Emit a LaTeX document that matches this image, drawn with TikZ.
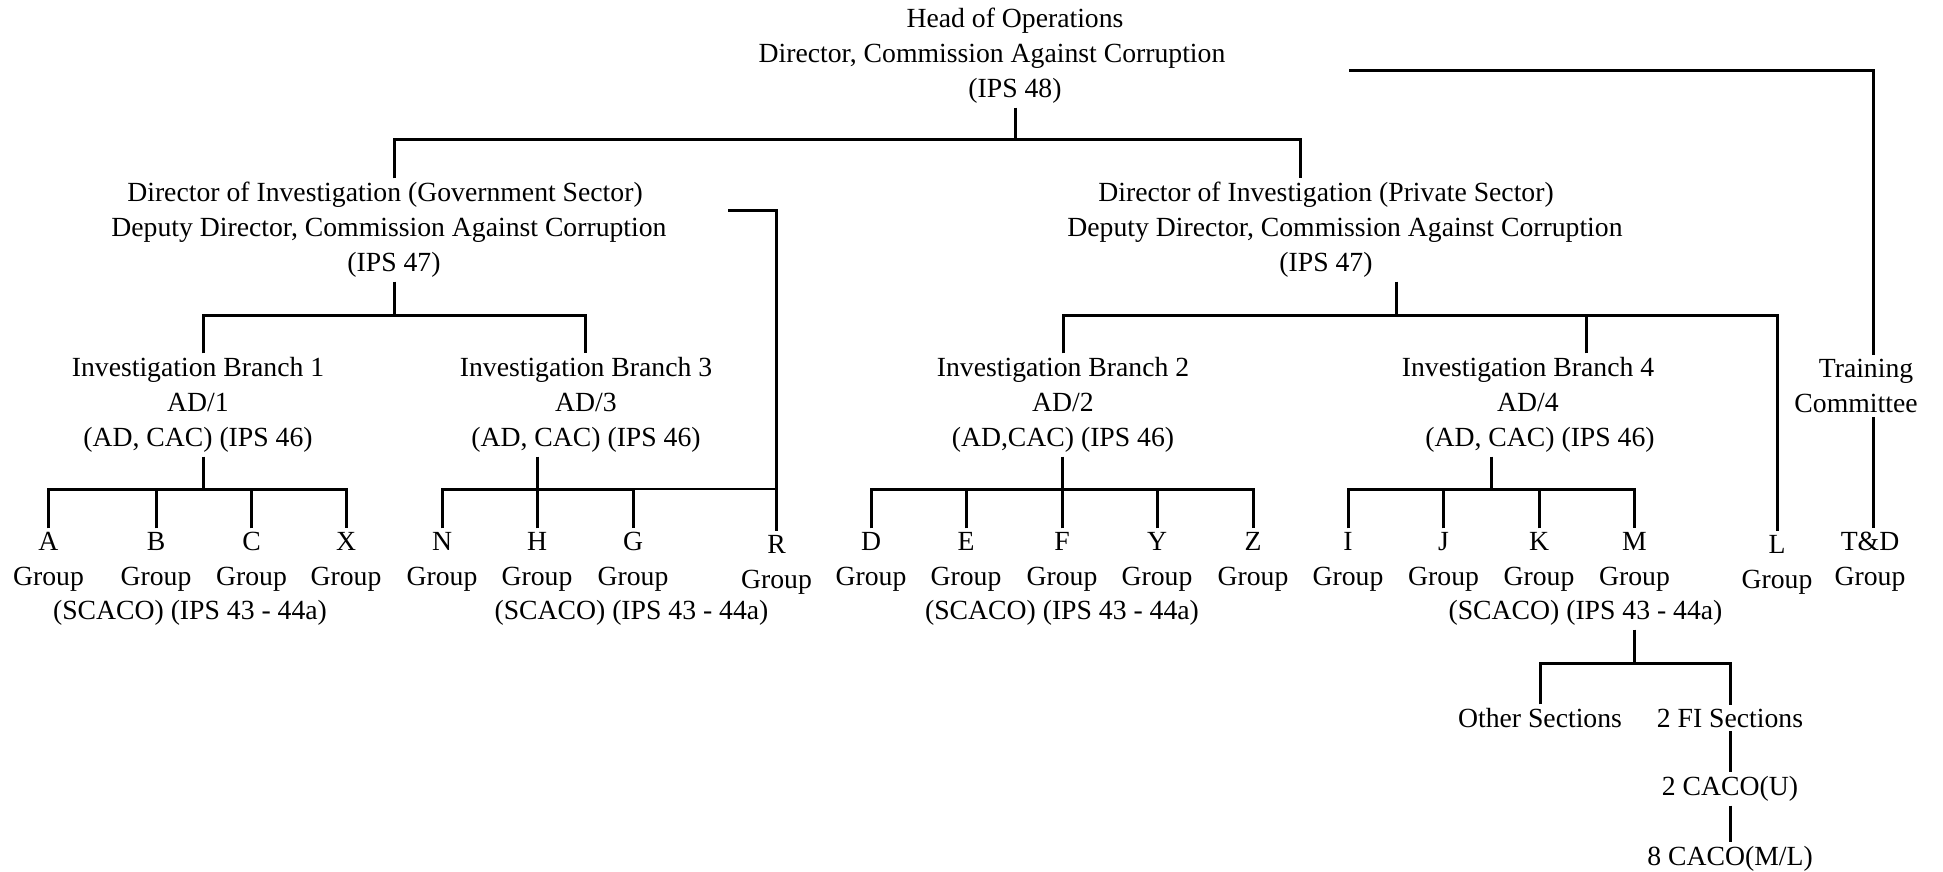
\documentclass[tikz,border=0pt]{standalone}
\usepackage{fontspec}
\setmainfont{Liberation Serif}
\newcommand{\padR}[1]{\hspace*{#1}\mbox{}}
\begin{document}
\begin{tikzpicture}[x=1pt,y=-1pt,
  lbl/.style={align=center, inner sep=0pt, outer sep=4pt, font=\fontsize{27.7}{35}\selectfont},
  ln/.style={line width=3pt},
  thinln/.style={line width=1.2pt}]
\useasboundingbox[fill=white] (0,0) rectangle (1943,872);
% top
\node[lbl] (head) at (1015,56) {Head of Operations\\Director, Commission Against Corruption\padR{46pt}\\(IPS 48)};
\node[lbl] (gov) at (394,230) {Director of Investigation (Government Sector)\padR{18pt}\\Deputy Director, Commission Against Corruption\padR{10pt}\\(IPS 47)};
\node[lbl] (priv) at (1326,230) {Director of Investigation (Private Sector)\\\hspace*{38pt}Deputy Director, Commission Against Corruption\\(IPS 47)};
\node[lbl] (training) at (1866,386) {Training\\Committee\padR{20pt}};
% branches
\node[lbl] (b1) at (198,405) {Investigation Branch 1\\AD/1\\(AD, CAC) (IPS 46)};
\node[lbl] (b3) at (586,405) {Investigation Branch 3\\AD/3\\(AD, CAC) (IPS 46)};
\node[lbl] (b2) at (1063,405) {Investigation Branch 2\\AD/2\\(AD,CAC) (IPS 46)};
\node[lbl] (b4) at (1528,405) {Investigation Branch 4\\AD/4\\\hspace*{24pt}(AD, CAC) (IPS 46)};
% groups
\node[lbl] (gA) at (48.5,562) {A\\Group};
\node[lbl] (gB) at (156,562) {B\\Group};
\node[lbl] (gC) at (251.5,562) {C\\Group};
\node[lbl] (gX) at (346,562) {X\\Group};
\node[lbl] (gN) at (442,562) {N\\Group};
\node[lbl] (gH) at (537,562) {H\\Group};
\node[lbl] (gG) at (633,562) {G\\Group};
\node[lbl] (gR) at (776.5,565) {R\\Group};
\node[lbl] (gD) at (871,562) {D\\Group};
\node[lbl] (gE) at (966,562) {E\\Group};
\node[lbl] (gF) at (1062,562) {F\\Group};
\node[lbl] (gY) at (1157,562) {Y\\Group};
\node[lbl] (gZ) at (1253,562) {Z\\Group};
\node[lbl] (gI) at (1348,562) {I\\Group};
\node[lbl] (gJ) at (1443.6,562) {J\\Group};
\node[lbl] (gK) at (1539,562) {K\\Group};
\node[lbl] (gM) at (1634.5,562) {M\\Group};
\node[lbl] (gL) at (1777,565) {L\\Group};
\node[lbl] (td) at (1870,562) {T\&D\\Group};
% scaco labels
\node[lbl] (sc1) at (190,613) {(SCACO) (IPS 43 - 44a)};
\node[lbl] (sc3) at (631.5,613) {(SCACO) (IPS 43 - 44a)};
\node[lbl] (sc2) at (1062,613) {(SCACO) (IPS 43 - 44a)};
\node[lbl] (sc4) at (1585.5,613) {(SCACO) (IPS 43 - 44a)};
% sections
\node[lbl] (other) at (1540,718) {Other Sections};
\node[lbl] (fi) at (1730,718) {2 FI Sections};
\node[lbl] (cacoU) at (1730,789) {2 CACO(U)};
\node[lbl] (cacoM) at (1730,859) {8 CACO(M/L)};
% junction coordinates
\coordinate (jt) at (1015,140);
\coordinate (gx) at (394,140);
\coordinate (px) at (1300,140);
\coordinate (ts) at (1349,70.5);
\coordinate (tc) at (1873,70.5);
\coordinate (gj) at (394,315);
\coordinate (g1) at (203,315);
\coordinate (g3) at (585,315);
\coordinate (rs) at (728,210.7);
\coordinate (b1j) at (203.6,489);
\coordinate (b3j) at (537,489);
\coordinate (pj) at (1396,315);
\coordinate (p4) at (1586,315);
\coordinate (b2j) at (1062,489);
\coordinate (b4j) at (1491,489);
\coordinate (mj) at (1634,663);
% connectors
\draw[ln] (head.south) -- (jt);
\draw[ln] (gov.north -| gx) -- (gx) -- (px) -- (priv.north -| px);
\draw[ln] (ts) -- (tc) -- (training.north -| tc);
\draw[ln] (training.south -| tc) -- (td.north -| tc);
\draw[ln] (gov.south -| gj) -- (gj);
\draw[ln] (b1.north -| g1) -- (g1) -- (g3) -- (b3.north -| g3);
\draw[ln] (rs) -| (gR.north);
\draw[ln] (b1.south -| b1j) -- (b1j);
\draw[ln] (gA.north) |- (b1j) -| (gX.north);
\draw[ln] (gB.north) -- (gB.north |- b1j);
\draw[ln] (gC.north) -- (gC.north |- b1j);
\draw[ln] (b3.south -| b3j) -- (b3j);
\draw[ln] (gN.north) |- (b3j) -| (gG.north);
\draw[ln] (gH.north) -- (b3j);
\draw[thinln] (gG.north |- b3j) -- (gR.north |- b3j);
\draw[ln] (priv.south -| pj) -- (pj);
\draw[ln] (b2.north) |- (pj) -| (gL.north);
\draw[ln] (b4.north -| p4) -- (p4);
\draw[ln] (b2.south -| b2j) -- (b2j);
\draw[ln] (gD.north) |- (b2j) -| (gZ.north);
\draw[ln] (gE.north) -- (gE.north |- b2j);
\draw[ln] (gF.north) -- (b2j);
\draw[ln] (gY.north) -- (gY.north |- b2j);
\draw[ln] (b4.south -| b4j) -- (b4j);
\draw[ln] (gI.north) |- (b4j) -| (gM.north);
\draw[ln] (gJ.north) -- (gJ.north |- b4j);
\draw[ln] (gK.north) -- (gK.north |- b4j);
\draw[ln] (sc4.south -| mj) -- (mj);
\draw[ln] (other.north) |- (mj) -| (fi.north);
\draw[ln] (fi.south) -- (cacoU.north);
\draw[ln] (cacoU.south) -- (cacoM.north);
\end{tikzpicture}
\end{document}
